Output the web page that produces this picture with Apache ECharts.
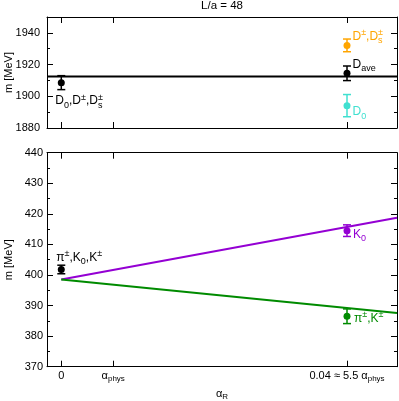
<!DOCTYPE html>
<html>
<head>
<meta charset="utf-8">
<title>L/a = 48</title>
<script src="https://cdn.jsdelivr.net/npm/echarts@6/dist/echarts.min.js"></script>
<style>html,body{margin:0;padding:0;background:#fff;}</style>
</head>
<body>
<div id="main" style="width:399px;height:401px;"></div>
<script type="text/javascript">
// x axis ticks (alpha_R)
var alphaPhys = 0.00727;
var xTicks = [0, alphaPhys, 0.04];
var xTickLabels = ['{n|0}', '{a|α}{s|phys}', '{n|0.04 ≈ 5.5 }{a|α}{s|phys}'];

// top panel: D mesons
var dNames = ['{n|D}{b|0}{n|,D}{t|±}{n|,D}{bz|s}{t|±}', '{n|D}{t|±}{n|,D}{bz|s}{t|±}', '{n|D}{b|ave}', '{n|D}{b|0}'];
var dX = [0, 0.04, 0.04, 0.04];
var dMass = [1908.6, 1932.1, 1914.5, 1894.1];
var dErr = [4.4, 4.0, 4.6, 7.0];
var dColors = ['#000000', '#ffa500', '#000000', '#40e0d0'];
var dAverage = 1912.5;
var dTicks = [1880, 1900, 1920, 1940];

// bottom panel: pi and K mesons
var kNames = ['{n|π}{t|±}{n|,K}{b|0}{n|,K}{t|±}', '{n|K}{b|0}', '{n|π}{t|±}{n|,K}{t|±}'];
var kX = [0, 0.04, 0.04];
var kMass = [401.8, 414.5, 386.5];
var kErr = [1.4, 1.9, 2.4];
var kColors = ['#000000', '#9400d3', '#008b00'];
var fitX = [0, 0.047];
var k0Fit = [398.5, 418.7];
var piKFit = [398.5, 387.6];

// label placement (pixels from the point)
var dLabelOffsets = [[-6, 10], [5.5, -17], [5.5, -17], [5.5, -2]];
var kLabelOffsets = [[-5, -20], [6, -4.5], [7, -6]];

var FONT = 'Liberation Sans, Arial, Helvetica, sans-serif';
var richText = {
	n: {fontSize: 12, lineHeight: 17, fontFamily: FONT},
	t: {fontSize: 9, lineHeight: 9, verticalAlign: 'top', fontFamily: FONT},
	b: {fontSize: 9, lineHeight: 9, verticalAlign: 'bottom', fontFamily: FONT},
	bz: {fontSize: 9, lineHeight: 9, verticalAlign: 'bottom', width: 0, fontFamily: FONT}
};
var richTick = {
	n: {fontSize: 11, lineHeight: 14, fontFamily: FONT, color: '#000'},
	a: {fontSize: 11, lineHeight: 14, fontFamily: FONT, color: '#000'},
	s: {fontSize: 8, lineHeight: 8, verticalAlign: 'bottom', fontFamily: FONT, color: '#000'}
};

function zip3(a, b, c) {
	return a.map(function(v, i) { return [v, b[i], c[i]]; });
}

function errorBars(colors, names, offsets) {
	return function(params, api) {
		var i = params.dataIndex;
		var x = api.value(0), y = api.value(1), e = api.value(2);
		var p = api.coord([x, y]);
		var hi = api.coord([x, y + e]);
		var lo = api.coord([x, y - e]);
		var c = colors[i];
		var ls = {stroke: c, lineWidth: 1.5};
		return {
			type: 'group',
			children: [
				{type: 'line', shape: {x1: p[0], y1: hi[1], x2: p[0], y2: lo[1]}, style: ls},
				{type: 'line', shape: {x1: p[0] - 4, y1: hi[1], x2: p[0] + 4, y2: hi[1]}, style: ls},
				{type: 'line', shape: {x1: p[0] - 4, y1: lo[1], x2: p[0] + 4, y2: lo[1]}, style: ls},
				{type: 'circle', shape: {cx: p[0], cy: p[1], r: 3.5}, style: {fill: c}},
				{type: 'text', x: p[0] + offsets[i][0], y: p[1] + offsets[i][1],
					style: {text: names[i], rich: richText, fill: c, font: '12px ' + FONT, align: 'left', verticalAlign: 'top'}}
			]
		};
	};
}

function xAxisDef(gi, pos, labels) {
	return {
		type: 'value', gridIndex: gi, position: pos, min: -0.002, max: 0.047,
		axisLine: {show: true, onZero: false, lineStyle: {color: '#000', width: 1}},
		axisTick: {show: true, inside: true, length: 6, customValues: xTicks, lineStyle: {color: '#000'}},
		axisLabel: {
			show: labels, customValues: xTicks, margin: 2, rich: richTick,
			formatter: function(v) { return xTickLabels[xTicks.indexOf(v)]; }
		},
		splitLine: {show: false}
	};
}

function yAxisDef(gi, pos, min, max, ticks, tickLen, labels, margin) {
	return {
		type: 'value', gridIndex: gi, position: pos, min: min, max: max, interval: 10,
		axisLine: {show: tickLen === 6, onZero: false, lineStyle: {color: '#000', width: 1}},
		axisTick: {show: true, inside: true, length: tickLen, customValues: ticks, lineStyle: {color: '#000'}},
		axisLabel: {
			show: labels, customValues: ticks, margin: margin, fontSize: 11, fontFamily: FONT, color: '#000',
			formatter: function(v) { return String(v); }
		},
		splitLine: {show: false}
	};
}

function range(a, b, s) { var r = []; for (var v = a; v <= b; v += s) r.push(v); return r; }

var myChart = echarts.init(document.getElementById('main'));
var yName = {fontSize: 11, fontFamily: FONT, color: '#000'};

var xAxes = [
	xAxisDef(0, 'bottom', false), xAxisDef(0, 'top', false),
	xAxisDef(1, 'bottom', true), xAxisDef(1, 'top', false)
];
xAxes[2].name = '{a|α}{s|R}';
xAxes[2].nameLocation = 'middle';
xAxes[2].nameGap = 20;
xAxes[2].nameMoveOverlap = false;
xAxes[2].nameTextStyle = {rich: richTick};

var yAxes = [
	yAxisDef(0, 'left', 1880, 1950, dTicks, 6, true, 7),
	yAxisDef(0, 'right', 1880, 1950, dTicks, 6, false, 0),
	yAxisDef(0, 'left', 1880, 1950, range(1880, 1950, 10), 3, false, 0),
	yAxisDef(0, 'right', 1880, 1950, range(1880, 1950, 10), 3, false, 0),
	yAxisDef(1, 'left', 370, 440, range(370, 440, 10), 6, true, 4),
	yAxisDef(1, 'right', 370, 440, range(370, 440, 10), 6, false, 0),
	yAxisDef(1, 'left', 370, 440, range(370, 440, 5), 3, false, 0),
	yAxisDef(1, 'right', 370, 440, range(370, 440, 5), 3, false, 0)
];
[0, 4].forEach(function(k) {
	yAxes[k].name = 'm [MeV]';
	yAxes[k].nameLocation = 'middle';
	yAxes[k].nameGap = 33;
	yAxes[k].nameMoveOverlap = false;
	yAxes[k].nameTextStyle = yName;
});

var option = {
	animation: false,
	backgroundColor: '#fff',
	title: {
		text: 'L/a = 48', left: 222, top: 0, padding: 0, textAlign: 'center',
		textStyle: {fontSize: 11.5, fontWeight: 'normal', fontFamily: FONT, color: '#000'}
	},
	grid: [
		{left: 47, top: 17, width: 350, height: 111, containLabel: false, outerBoundsMode: 'none'},
		{left: 47, top: 152.7, width: 350, height: 214, containLabel: false, outerBoundsMode: 'none'}
	],
	xAxis: xAxes,
	yAxis: yAxes,
	series: [
		{
			type: 'line', xAxisIndex: 0, yAxisIndex: 0, showSymbol: false, silent: true,
			data: [[-0.002, dAverage], [0.047, dAverage]],
			lineStyle: {color: '#000', width: 2}
		},
		{
			type: 'line', xAxisIndex: 2, yAxisIndex: 4, showSymbol: false, silent: true,
			data: fitX.map(function(x, i) { return [x, k0Fit[i]]; }),
			lineStyle: {color: '#9400d3', width: 2}
		},
		{
			type: 'line', xAxisIndex: 2, yAxisIndex: 4, showSymbol: false, silent: true,
			data: fitX.map(function(x, i) { return [x, piKFit[i]]; }),
			lineStyle: {color: '#008b00', width: 2}
		},
		{
			type: 'custom', xAxisIndex: 0, yAxisIndex: 0,
			renderItem: errorBars(dColors, dNames, dLabelOffsets),
			data: zip3(dX, dMass, dErr), z: 5
		},
		{
			type: 'custom', xAxisIndex: 2, yAxisIndex: 4,
			renderItem: errorBars(kColors, kNames, kLabelOffsets),
			data: zip3(kX, kMass, kErr), z: 5
		}
	]
};

myChart.setOption(option);
</script>
</body>
</html>
